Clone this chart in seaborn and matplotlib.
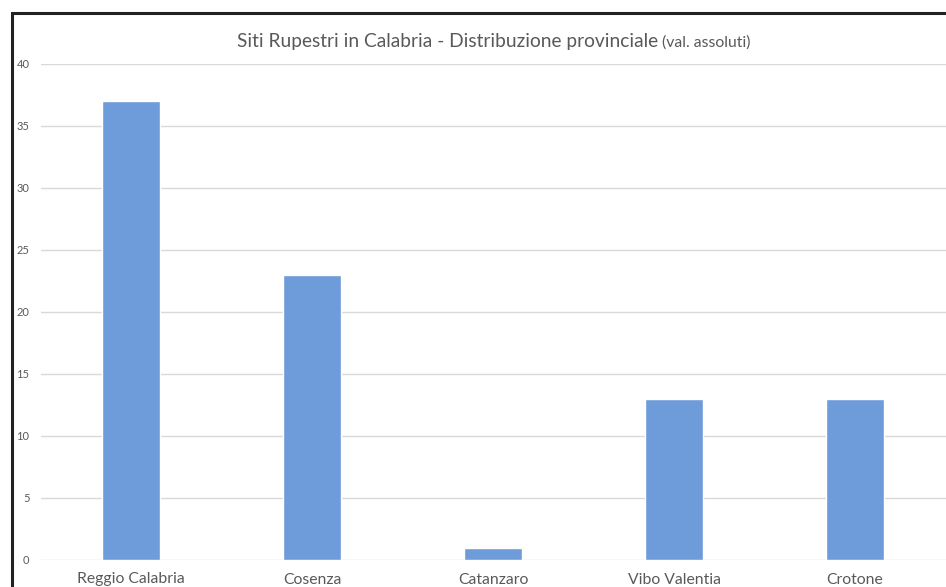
import matplotlib
matplotlib.use("Agg")
import matplotlib.pyplot as plt
from matplotlib.patches import Rectangle
import seaborn as sns
import pandas as pd

# === Data ===
provinces = ["Reggio Calabria", "Cosenza", "Catanzaro", "Vibo Valentia", "Crotone"]
sites = [37, 23, 1, 13, 13]
y_ticks = [0, 5, 10, 15, 20, 25, 30, 35, 40]

TITLE_MAIN = "Siti Rupestri in Calabria - Distribuzione provinciale"
TITLE_SUB = " (val. assoluti)"

BAR_COLOR = "#6e9bd9"
GRID_COLOR = "#d9d9d9"
TEXT_COLOR = "#595959"

sns.set_theme(style="white")
plt.rcParams["font.family"] = ["Lato", "DejaVu Sans"]

df = pd.DataFrame({"Provincia": provinces, "Siti": sites})

W, H = 946, 587
fig = plt.figure(figsize=(W / 100, H / 100), dpi=100)
ax = fig.add_axes([40.5 / W, 27 / H, 905 / W, 496 / H])

sns.barplot(data=df, x="Provincia", y="Siti", color=BAR_COLOR,
            width=0.315, saturation=1, ax=ax, zorder=3)

ax.set_ylim(0, 40)
ax.set_yticks(y_ticks)
ax.set_yticklabels([str(t) for t in y_ticks], fontsize=8, color=TEXT_COLOR)
ax.tick_params(axis="x", labelsize=11.3, colors=TEXT_COLOR, length=0, pad=9)
ax.tick_params(axis="y", length=0, pad=8)
ax.set_xlabel("")
ax.set_ylabel("")
ax.grid(axis="y", color=GRID_COLOR, linewidth=1, zorder=0)
for s in ax.spines.values():
    s.set_visible(False)

# title in two sizes
renderer = fig.canvas.get_renderer()
t1 = fig.text(237 / W, 1 - 42 / H, TITLE_MAIN, fontsize=13.8, color=TEXT_COLOR,
              ha="left", va="center")
bb = t1.get_window_extent(renderer=renderer)
fig.text(bb.x1 / W, 1 - 43 / H, TITLE_SUB, fontsize=11.3, color=TEXT_COLOR,
         ha="left", va="center")

# black frame around chart (cropped at right/bottom)
fig.patches.append(Rectangle((11.5 / W, -0.1), 1.2, 1 - 12.5 / H + 0.1,
                             transform=fig.transFigure, fill=False,
                             edgecolor="#222222", linewidth=2.2))

fig.savefig("out.png", dpi=100)
